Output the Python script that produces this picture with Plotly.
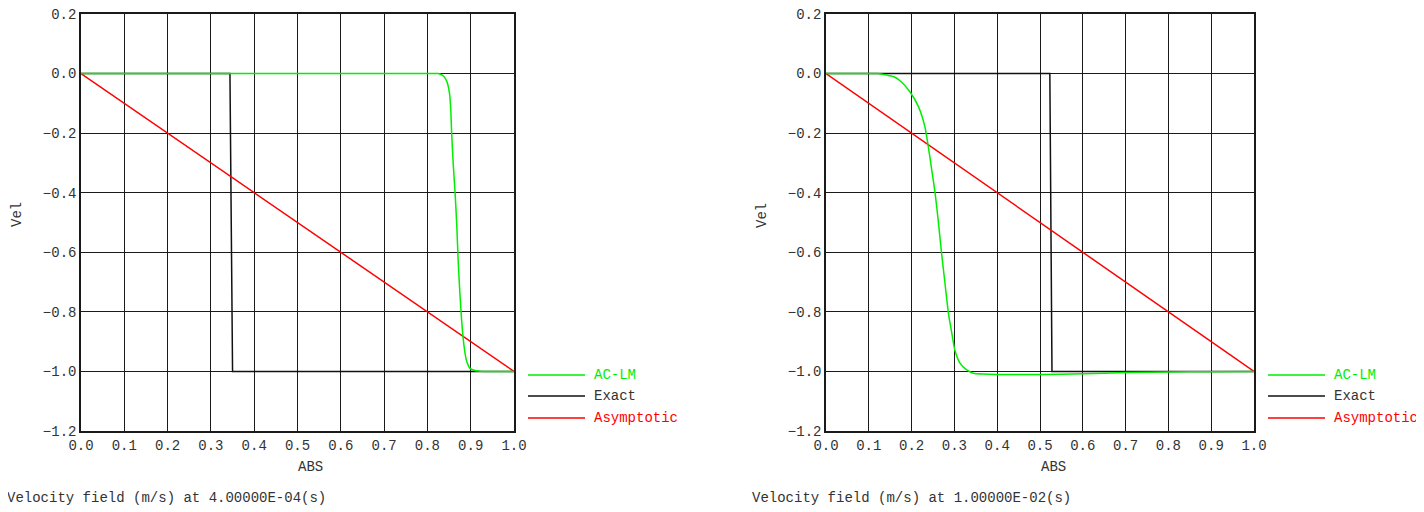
import plotly.graph_objects as go

# page body has an 8px margin; figure is sized so the whole page is 1424x512
OFF = 8
W, H = 1424 - OFF, 512 - OFF

# ---------------- data ----------------
x_ticks = [0.0, 0.1, 0.2, 0.3, 0.4, 0.5, 0.6, 0.7, 0.8, 0.9, 1.0]
x_tick_labels = ["0.0", "0.1", "0.2", "0.3", "0.4", "0.5", "0.6", "0.7", "0.8", "0.9", "1.0"]
y_ticks = [-1.2, -1.0, -0.8, -0.6, -0.4, -0.2, 0.0, 0.2]
y_tick_labels = ["\u22121.2", "\u22121.0", "\u22120.8", "\u22120.6", "\u22120.4", "\u22120.2", "0.0", "0.2"]

series_names = ["AC-LM", "Exact", "Asymptotic"]
captions = ["Velocity field (m/s) at 4.00000E-04(s)", "Velocity field (m/s) at 1.00000E-02(s)"]

# Left panel (t = 4.0E-04 s)
acl_left_x = [0.0, 0.2, 0.4, 0.6, 0.7, 0.78, 0.81, 0.825, 0.837, 0.845, 0.851, 0.854, 0.856,
              0.860, 0.864, 0.868, 0.871, 0.875, 0.879, 0.883, 0.887, 0.891, 0.898, 0.910,
              0.93, 0.96, 1.0]
acl_left_y = [0.0, 0.0, 0.0, 0.0, 0.0, 0.0, 0.0, 0.0, -0.008, -0.027, -0.066, -0.122, -0.200,
              -0.312, -0.402, -0.514, -0.626, -0.737, -0.827, -0.894, -0.939, -0.967, -0.989,
              -0.997, -1.0, -1.0, -1.0]
exact_left_x = [0.0, 0.344, 0.350, 1.0]
exact_left_y = [0.0, 0.0, -1.0, -1.0]
asym_left_x = [0.0, 1.0]
asym_left_y = [0.0, -1.0]

# Right panel (t = 1.0E-02 s)
acl_right_x = [0.0, 0.05, 0.09, 0.120, 0.142, 0.157, 0.173, 0.196, 0.216, 0.231, 0.239, 0.247,
               0.255, 0.262, 0.270, 0.278, 0.286, 0.294, 0.301, 0.313, 0.329, 0.344, 0.37,
               0.40, 0.50, 0.60, 0.70, 0.80, 0.90, 1.0]
acl_right_y = [0.0, 0.0, 0.0, 0.0, -0.005, -0.010, -0.024, -0.061, -0.111, -0.178, -0.245, -0.323,
               -0.402, -0.491, -0.603, -0.704, -0.804, -0.872, -0.928, -0.972, -0.995, -1.006,
               -1.009, -1.01, -1.01, -1.008, -1.004, -1.002, -1.001, -1.0]
exact_right_x = [0.0, 0.523, 0.528, 1.0]
exact_right_y = [0.0, 0.0, -1.0, -1.0]
asym_right_x = [0.0, 1.0]
asym_right_y = [0.0, -1.0]

colors = {"AC-LM": "#00ee00", "Exact": "#111111", "Asymptotic": "#ff0000"}
text_color = "#333333"
FONT = "Courier New, Courier, Nimbus Mono PS, FreeMono, Liberation Mono, monospace"
FS = 14

# ---------------- layout helpers (page pixel -> paper fraction) ----------------
def px(x):
    return (x - OFF) / W

def py(y):
    return 1 - (y - OFF) / H

panels = [
    dict(xd=(81, 514), caption_x=5, xaxis="x", yaxis="y",
         data=[("Exact", exact_left_x, exact_left_y),
               ("Asymptotic", asym_left_x, asym_left_y),
               ("AC-LM", acl_left_x, acl_left_y)]),
    dict(xd=(826, 1254), caption_x=750, xaxis="x2", yaxis="y2",
         data=[("Exact", exact_right_x, exact_right_y),
               ("Asymptotic", asym_right_x, asym_right_y),
               ("AC-LM", acl_right_x, acl_right_y)]),
]
y_top, y_bot = 14, 431

fig = go.Figure()
annotations = []
shapes = []

for i, p in enumerate(panels):
    for name, xs, ys in p["data"]:
        line = dict(color=colors[name], width=1.5)
        if name == "AC-LM":
            line.update(shape="spline", smoothing=0.6)
        fig.add_trace(go.Scatter(x=xs, y=ys, mode="lines", name=name,
                                 xaxis=p["xaxis"], yaxis=p["yaxis"], showlegend=False,
                                 line=line))
    axis_common = dict(showgrid=True, gridcolor="#1a1a1a", gridwidth=1.4,
                       showline=True, linecolor="#1a1a1a", linewidth=1.5, mirror=True,
                       zeroline=False, ticks="", automargin=False, ticklabeloverflow="allow",
                       tickfont=dict(family=FONT, size=FS, color=text_color))
    xk = "xaxis" if i == 0 else "xaxis2"
    yk = "yaxis" if i == 0 else "yaxis2"
    fig.layout[xk] = dict(domain=[px(p["xd"][0]), px(p["xd"][1])], range=[0, 1],
                          tickvals=x_ticks, ticktext=x_tick_labels,
                          anchor=p["yaxis"], **axis_common)
    fig.layout[yk] = dict(domain=[py(y_bot), py(y_top)], range=[-1.2, 0.2],
                          tickvals=y_ticks, ticktext=y_tick_labels,
                          anchor=p["xaxis"], **axis_common)

    x0, x1 = p["xd"]
    # axis titles
    annotations.append(dict(x=px((x0 + x1) / 2 + 13), y=py(467), xref="paper", yref="paper",
                            text="ABS", showarrow=False, xanchor="center", yanchor="middle",
                            font=dict(family=FONT, size=FS, color=text_color)))
    annotations.append(dict(x=px(x0 - 64), y=py(215), xref="paper", yref="paper",
                            text="Vel", showarrow=False, textangle=-90,
                            xanchor="center", yanchor="middle",
                            font=dict(family=FONT, size=FS, color=text_color)))
    # caption
    annotations.append(dict(x=px(p["caption_x"]), y=py(498), xref="paper", yref="paper",
                            text=captions[i], showarrow=False, xanchor="left", yanchor="middle",
                            font=dict(family=FONT, size=FS, color=text_color)))
    # legend
    lx0 = x1 + 14
    for j, name in enumerate(series_names):
        yy = [375, 396, 418][j]
        shapes.append(dict(type="line", xref="paper", yref="paper",
                           x0=px(lx0), x1=px(lx0 + 57), y0=py(yy), y1=py(yy),
                           line=dict(color=colors[name], width=1.5)))
        annotations.append(dict(x=px(lx0 + 64), y=py(yy), xref="paper", yref="paper",
                                text=name, showarrow=False, xanchor="left", yanchor="middle",
                                font=dict(family=FONT, size=FS,
                                          color=colors[name] if name != "Exact" else text_color)))

fig.update_layout(width=W, height=H, margin=dict(l=0, r=0, t=0, b=0, autoexpand=False),
                  plot_bgcolor="white", paper_bgcolor="white",
                  annotations=annotations, shapes=shapes, showlegend=False)

fig.write_html("out.html")
